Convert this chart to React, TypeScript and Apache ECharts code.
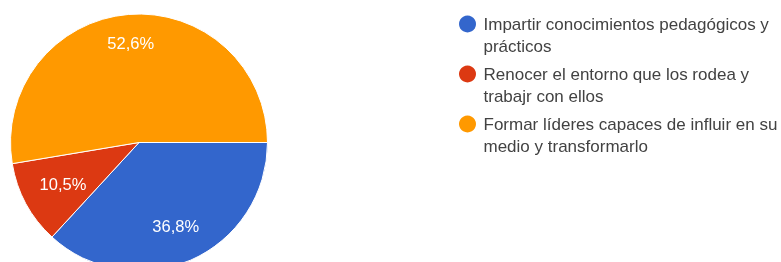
import React, { useEffect, useRef } from "react";
import * as echarts from "echarts";

const categories = [
  "Impartir conocimientos pedagógicos y prácticos",
  "Renocer el entorno que los rodea y trabajr con ellos",
  "Formar líderes capaces de influir en su medio y transformarlo",
];
const legendLabels = [
  "Impartir conocimientos pedagógicos y\nprácticos",
  "Renocer el entorno que los rodea y\ntrabajr con ellos",
  "Formar líderes capaces de influir en su\nmedio y transformarlo",
];
const counts = [7, 2, 10];
const colors = ["#3366cc", "#dc3912", "#ff9900"];
// distance from centre at which each slice's percentage label sits
const labelDistances = [88.5, 83.5, 97];

const CENTER = [139, 142.5];
const R = 128.5;

export default function App() {
  const ref = useRef<HTMLDivElement>(null);
  useEffect(() => {
    if (!ref.current) return;
    const chart = echarts.init(ref.current, undefined, { renderer: "svg" });
    const data = categories.map((name, i) => ({ name, value: counts[i] }));
    const labelSeries = labelDistances.map((d, k) => ({
      type: "pie",
      center: CENTER,
      radius: [2 * d - R, R],
      startAngle: 0,
      clockwise: true,
      silent: true,
      legendHoverLink: false,
      itemStyle: { color: "transparent", borderWidth: 0 },
      label: {
        show: true,
        position: "inside",
        color: "#ffffff",
        fontFamily: "Liberation Sans",
        fontSize: 16.5,
        formatter: (p: any) => p.percent.toFixed(1).replace(".", ",") + "%",
      },
      labelLine: { show: false },
      emphasis: { disabled: true },
      data: data.map((it, i) => ({ ...it, label: { show: i === k } })),
    }));
    chart.setOption({
      animation: false,
      color: colors,
      legend: {
        orient: "vertical",
        left: 459,
        top: -9,
        padding: 0,
        icon: "circle",
        itemWidth: 22,
        itemHeight: 17,
        itemGap: -16,
        selectedMode: false,
        itemStyle: { borderWidth: 0 },
        formatter: (name: string) =>
          "\n" + legendLabels[categories.indexOf(name)],
        textStyle: {
          fontFamily: "Liberation Sans",
          fontSize: 17,
          color: "#424242",
          lineHeight: 22,
        },
        data: categories,
      },
      series: [
        {
          type: "pie",
          center: CENTER,
          radius: R,
          startAngle: 0,
          clockwise: true,
          label: { show: false },
          labelLine: { show: false },
          itemStyle: { borderColor: "#ffffff", borderWidth: 1 },
          emphasis: { disabled: true },
          data,
        },
        ...labelSeries,
      ],
    });
    return () => chart.dispose();
  }, []);
  return (
    <div
      ref={ref}
      style={{ position: "fixed", left: 0, top: 0, width: 781, height: 262 }}
    />
  );
}
